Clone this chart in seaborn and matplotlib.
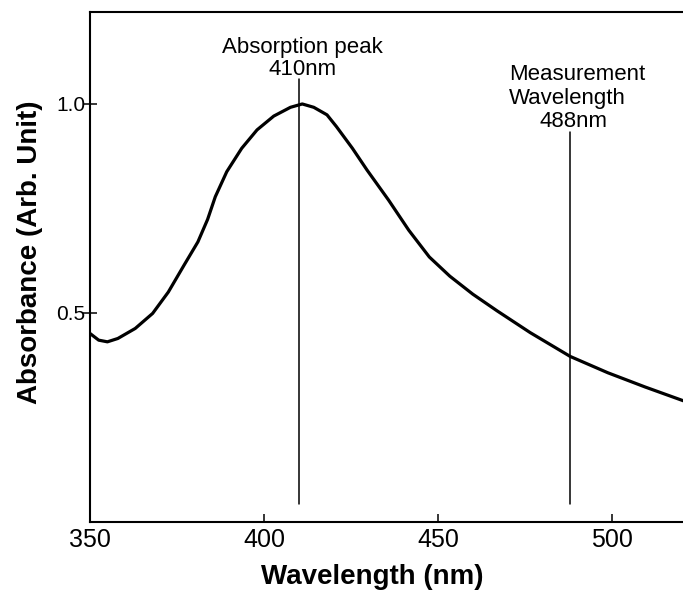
import matplotlib
matplotlib.use("Agg")
import matplotlib.pyplot as plt
import seaborn as sns
import pandas as pd

# Absorption spectrum (normalised absorbance vs wavelength)
wavelength_nm = [350, 352.5, 355, 358, 363, 368, 372.5, 377, 381, 383.8, 386,
                 389.3, 393.6, 398, 402.8, 407.6, 411, 414.3, 418.1, 420.8,
                 425.4, 429.6, 435.8, 441.6, 447.5, 453.4, 460, 467,
                 476.5, 488, 498.8, 509.5, 520.5]
absorbance = [0.451, 0.435, 0.431, 0.439, 0.463, 0.499, 0.550, 0.614, 0.670,
              0.724, 0.778, 0.838, 0.894, 0.938, 0.971, 0.992, 1.000, 0.992,
              0.974, 0.946, 0.894, 0.842, 0.770, 0.698, 0.634, 0.588, 0.545,
              0.505, 0.453, 0.396, 0.357, 0.323, 0.290]

# Marker lines: absorption peak and measurement wavelength
marker_nm = [410, 488]
marker_top = [1.059, 0.934]
marker_bottom = 0.044

x_ticks = [350, 400, 450, 500]
y_ticks = [0.5, 1.0]
y_tick_labels = ["0.5", "1.0"]

sns.set_style("white")
plt.rcParams["font.family"] = ["Liberation Sans", "DejaVu Sans"]

df = pd.DataFrame({"Wavelength": wavelength_nm, "Absorbance": absorbance})

fig = plt.figure(figsize=(6.83, 6.02), dpi=100)
ax = fig.add_axes([90 / 683, 80 / 602, 593 / 683, 510 / 602])

sns.lineplot(data=df, x="Wavelength", y="Absorbance", ax=ax,
             color="black", linewidth=2.3, sort=True)
ax.lines[-1].set_solid_joinstyle("round")

for xv, top in zip(marker_nm, marker_top):
    ax.plot([xv, xv], [marker_bottom, top], color="black", linewidth=1.1)

txt = dict(fontsize=16, color="black")
ax.text(411, 1.121, "Absorption peak", ha="center", va="baseline", **txt)
ax.text(411, 1.069, "410nm", ha="center", va="baseline", **txt)
ax.text(470.5, 1.0575, "Measurement", ha="left", va="baseline", **txt)
ax.text(470.5, 1.0, "Wavelength", ha="left", va="baseline", **txt)
ax.text(489, 0.946, "488nm", ha="center", va="baseline", **txt)

ax.set_xlim(350, 520.4)
ax.set_ylim(0, 1.22)
ax.set_xticks(x_ticks)
ax.set_yticks(y_ticks)
ax.set_yticklabels(y_tick_labels)

ax.tick_params(axis="x", direction="in", length=6, width=1.1, pad=4.5,
               labelsize=18, colors="black", bottom=True)
ax.tick_params(axis="y", direction="inout", length=10, width=1.1, pad=-1.5,
               labelsize=15, colors="black", left=True)

for side in ["left", "bottom", "top"]:
    ax.spines[side].set_linewidth(1.5)
    ax.spines[side].set_color("black")
ax.spines["right"].set_visible(False)

ax.set_xlabel("Wavelength (nm)", fontsize=20, fontweight="bold", color="black")
ax.set_ylabel("Absorbance (Arb. Unit)", fontsize=20, fontweight="bold", color="black")
ax.xaxis.set_label_coords(0.476, -0.082)
ax.yaxis.set_label_coords(-0.08, 0.529)

fig.savefig("out.png", dpi=100)
